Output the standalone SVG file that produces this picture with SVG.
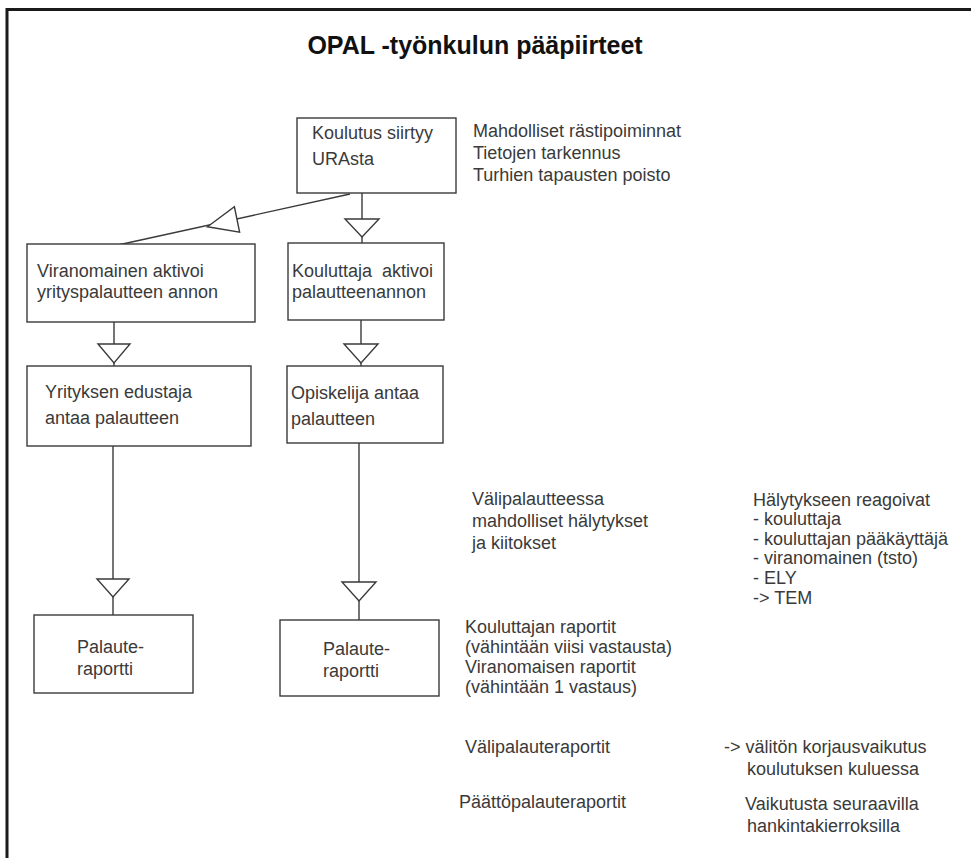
<svg xmlns="http://www.w3.org/2000/svg" width="971" height="858" viewBox="0 0 971 858">
<style>
.box{fill:#fff;stroke:#3a3a3a;stroke-width:1.4}
.ln{fill:none;stroke:#3a3a3a;stroke-width:1.4}
.tri{fill:#fff;stroke:#3a3a3a;stroke-width:1.4}
.t{font-family:"Liberation Sans",Arial,sans-serif;font-size:18px;fill:#3a3a3a}
.title{font-family:"Liberation Sans",Arial,sans-serif;font-size:25px;font-weight:bold;fill:#111}
</style>
<rect width="971" height="858" fill="#fff"/>
<g id="frame">
<path d="M7,858 V9.5 H971" fill="none" stroke="#1a1a1a" stroke-width="3"/>
</g>
<text class="title" x="475" y="54" text-anchor="middle">OPAL -työnkulun pääpiirteet</text>

<g id="connectors">
<line class="ln" x1="350" y1="194" x2="118" y2="245"/>
<polygon class="tri" points="239.6,232.2 234.4,206.8 207.5,226.8"/>
<line class="ln" x1="362" y1="193" x2="362" y2="243"/>
<polygon class="tri" points="345,219 379,219 362,237"/>
<line class="ln" x1="114" y1="322" x2="114" y2="366"/>
<polygon class="tri" points="98,344 130,344 114,363"/>
<line class="ln" x1="361" y1="320" x2="361" y2="366"/>
<polygon class="tri" points="344,344 378,344 361,363"/>
<line class="ln" x1="113" y1="446" x2="113" y2="615"/>
<polygon class="tri" points="97,579 129,579 113,597"/>
<line class="ln" x1="359" y1="443" x2="359" y2="620"/>
<polygon class="tri" points="342,582 376,582 359,601"/>
</g>

<g id="n-koulutus">
<rect class="box" x="297" y="118" width="159" height="75"/>
<text class="t" x="312" y="139">Koulutus siirtyy</text>
<text class="t" x="312" y="165">URAsta</text>
</g>
<g id="n-viranomainen">
<rect class="box" x="27" y="244" width="228" height="78"/>
<text class="t" x="37" y="277">Viranomainen aktivoi</text>
<text class="t" x="37" y="298">yrityspalautteen annon</text>
</g>
<g id="n-kouluttaja">
<rect class="box" x="288" y="243" width="156" height="77"/>
<text class="t" x="292" y="277" word-spacing="5">Kouluttaja aktivoi</text>
<text class="t" x="292" y="298">palautteenannon</text>
</g>
<g id="n-yrityksen">
<rect class="box" x="27" y="366" width="224" height="80"/>
<text class="t" x="45" y="398">Yrityksen edustaja</text>
<text class="t" x="45" y="424">antaa palautteen</text>
</g>
<g id="n-opiskelija">
<rect class="box" x="287" y="366" width="156" height="77"/>
<text class="t" x="291" y="399">Opiskelija antaa</text>
<text class="t" x="291" y="425">palautteen</text>
</g>
<g id="n-raportti-left">
<rect class="box" x="34" y="615" width="159" height="78"/>
<text class="t" x="77" y="653">Palaute-</text>
<text class="t" x="77" y="675">raportti</text>
</g>
<g id="n-raportti-right">
<rect class="box" x="280" y="620" width="159" height="76"/>
<text class="t" x="323" y="655">Palaute-</text>
<text class="t" x="323" y="677">raportti</text>
</g>

<g id="notes">
<text class="t" x="473" y="137">Mahdolliset rästipoiminnat</text>
<text class="t" x="473" y="159">Tietojen tarkennus</text>
<text class="t" x="473" y="181">Turhien tapausten poisto</text>

<text class="t" x="472" y="505">Välipalautteessa</text>
<text class="t" x="472" y="527">mahdolliset hälytykset</text>
<text class="t" x="472" y="549">ja kiitokset</text>

<text class="t" x="753" y="506">Hälytykseen reagoivat</text>
<text class="t" x="753" y="525">- kouluttaja</text>
<text class="t" x="753" y="545">- kouluttajan pääkäyttäjä</text>
<text class="t" x="753" y="564">- viranomainen (tsto)</text>
<text class="t" x="753" y="584">-  ELY</text>
<text class="t" x="753" y="604">-&gt; TEM</text>

<text class="t" x="465" y="633">Kouluttajan raportit</text>
<text class="t" x="465" y="653">(vähintään viisi vastausta)</text>
<text class="t" x="465" y="673">Viranomaisen raportit</text>
<text class="t" x="465" y="693">(vähintään 1 vastaus)</text>

<text class="t" x="465" y="753">Välipalauteraportit</text>
<text class="t" x="459" y="808">Päättöpalauteraportit</text>

<text class="t" x="724" y="753">-&gt; välitön korjausvaikutus</text>
<text class="t" x="747" y="775">koulutuksen kuluessa</text>
<text class="t" x="745" y="810">Vaikutusta seuraavilla</text>
<text class="t" x="747" y="832">hankintakierroksilla</text>
</g>
</svg>
